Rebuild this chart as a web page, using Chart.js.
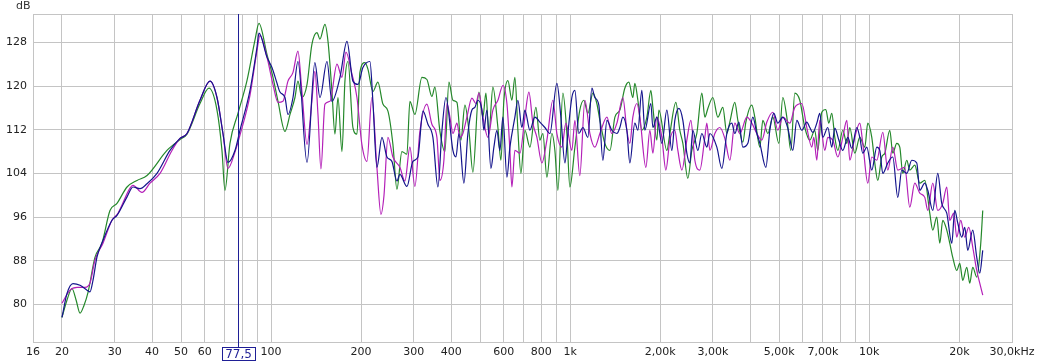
<!DOCTYPE html>
<html>
<head>
<meta charset="utf-8">
<script src="https://cdn.jsdelivr.net/npm/chart.js@4.4.0/dist/chart.umd.min.js"></script>
<style>
  html, body { margin: 0; padding: 0; background: #fff; }
  #wrap { width: 1045px; height: 363px; }
</style>
</head>
<body>
<div id="wrap"><canvas id="fr"></canvas></div>
<script>
// axis ticks
const xTickValues = [16,20,30,40,50,60,70,80,90,100,200,300,400,500,600,700,800,900,1000,2000,3000,4000,5000,6000,7000,8000,9000,10000,20000,30000];
const xTickLabels = ['16','20','30','40','50','60','','','','100','200','300','400','','600','','800','','1k','2,00k','3,00k','','5,00k','','7,00k','','','10k','20k','30,0kHz'];
const yTickValues = [80,88,96,104,112,120,128];

const cursorHz = 77.5;
const cursorLabel = '77,5';

// blue measurement
const blueHz = [20.0,20.79,21.77,22.98,24.25,24.82,25.39,26.19,27.42,29.39,30.54,33.0,34.55,36.47,38.48,41.56,45.93,49.61,52.35,57.86,62.5,65.95,69.06,71.77,75.75,78.72,85.02,89.73,91.12,96.9,100.7,104.7,107.1,111.3,113.9,118.4,123.0,131.9,140.1,145.7,153.8,159.8,170.0,179.4,187.8,195.2,202.8,214.1,219.0,225.9,234.8,244.0,253.5,263.5,269.6,284.6,298.0,309.7,321.9,334.5,347.6,361.3,372.5,384.3,405.5,415.0,424.7,441.3,455.1,469.3,480.2,491.5,506.9,514.7,526.7,543.2,555.9,568.9,582.2,595.8,614.5,628.8,653.4,668.7,689.6,705.7,733.4,762.1,792.1,823.2,855.5,902.8,931.0,960.1,982.5,1013,1037,1069,1103,1146,1182,1209,1247,1286,1327,1378,1433,1466,1500,1547,1583,1645,1684,1736,1777,1861,1890,1949,2025,2105,2187,2238,2309,2381,2455,2512,2571,2672,2756,2864,2931,3093,3214,3340,3471,3552,3664,3778,3927,4080,4208,4307,4510,4651,4796,4946,5139,5341,5550,5724,5948,6182,6327,6474,6677,6832,6992,7267,7493,7668,7909,8155,8476,8739,9083,9295,9512,9810,10194,10595,10842,11095,11531,11982,12453,12842,13346,13869,14414,14750,15328,15687,16301,16941,17470,18156,18868,19309,19760,20377,20853,21341,22177,22871,23405,23951];
const blueDb = [77.6,82.0,83.8,83.5,82.6,82.3,84.4,88.7,91.7,95.4,96.3,99.7,101.5,101.2,102.1,104.0,108.2,110.4,111.3,117.4,120.9,117.9,111.3,106.0,108.2,111.9,119.2,127.1,129.7,125.3,123.4,120.5,118.9,117.9,114.8,117.9,124.5,106.0,124.3,117.9,124.5,117.2,121.6,128.2,120.9,120.3,123.4,124.5,117.2,105.1,110.6,107.0,106.2,102.6,103.8,101.6,106.2,107.0,115.4,113.0,110.6,101.5,111.7,117.9,108.2,107.0,111.3,102.2,111.3,115.6,116.1,117.4,115.6,111.9,115.6,104.9,108.8,111.9,108.2,114.3,103.3,108.8,114.3,117.4,112.4,115.6,111.9,114.3,113.4,112.4,111.3,120.5,114.3,105.9,111.3,117.9,119.2,111.3,112.4,110.6,119.6,117.9,116.5,106.4,113.7,111.9,111.3,112.4,114.3,111.9,105.9,113.2,111.9,119.2,111.9,116.8,112.4,114.3,109.5,115.6,108.2,113.7,115.9,113.7,107.7,105.9,111.9,108.2,111.3,108.8,111.3,108.8,104.9,111.3,113.2,111.3,113.4,108.8,109.5,114.3,111.3,109.5,105.1,111.9,115.0,113.2,114.3,112.3,108.2,113.7,111.9,113.4,112.4,111.5,113.2,115.0,110.6,112.4,108.8,112.3,110.1,108.2,110.6,108.6,112.4,110.6,107.7,108.8,104.6,108.8,108.2,104.0,105.9,107.0,99.6,104.6,104.0,106.4,105.9,100.9,102.2,100.9,97.2,104.0,98.5,96.7,91.2,97.2,94.9,92.3,94.1,89.9,93.6,88.6,85.7,89.9];

// magenta measurement
const magentaHz = [20.0,21.27,22.46,23.87,24.82,25.78,27.42,29.39,30.78,33.77,34.55,37.02,39.38,42.53,46.64,49.61,52.35,57.86,62.5,65.95,69.06,71.77,75.75,78.72,85.02,89.73,91.82,96.9,101.5,105.5,109.6,113.9,118.4,123.0,126.8,131.9,136.9,140.1,143.5,146.8,151.4,157.4,166.1,172.6,178.0,186.4,193.7,201.2,209.2,217.3,225.9,233.0,238.4,245.9,255.5,269.6,280.2,291.2,302.6,314.5,331.9,344.9,358.5,366.9,378.3,387.2,396.3,405.5,418.2,428.0,437.9,451.6,469.3,484.0,495.3,510.8,530.8,551.6,573.3,595.8,614.5,628.8,638.5,653.4,679.1,705.7,727.8,750.5,774.0,804.4,835.9,875.4,902.8,938.1,967.6,1013,1037,1077,1120,1164,1209,1257,1327,1378,1433,1500,1547,1583,1620,1671,1710,1791,1847,1890,1949,2025,2089,2154,2238,2291,2363,2455,2532,2611,2713,2820,2864,2931,3046,3165,3289,3418,3552,3692,3897,4049,4208,4372,4545,4759,4946,5139,5424,5636,5948,6182,6425,6524,6677,6832,7100,7267,7551,7848,8155,8411,8607,8943,9295,9512,9886,10194,10595,11095,11531,11982,12453,13141,13657,14193,14750,15328,15687,16301,16941,17605,18156,18580,19161,19609,20223,20853,21506,22177,22871,23405,23951];
const magentaDb = [80.2,82.6,83.1,83.1,83.9,88.1,91.2,95.4,96.7,101.3,101.8,100.5,102.2,104.0,108.2,110.4,111.3,117.4,120.9,117.9,111.3,104.9,107.9,111.0,118.3,126.5,129.3,125.3,120.3,117.0,117.2,120.9,122.5,126.4,119.0,109.3,117.2,122.7,114.8,104.8,116.7,117.2,124.0,121.6,126.2,122.2,117.9,109.3,106.2,117.9,105.1,96.5,99.8,110.6,107.0,105.1,102.6,108.8,101.6,111.7,116.7,113.0,110.6,102.7,106.4,116.8,114.3,111.3,113.2,110.6,111.3,114.3,117.8,116.8,118.7,114.3,110.6,115.6,117.4,120.1,116.8,108.2,101.5,108.2,107.7,114.3,118.9,113.2,110.6,105.9,110.1,117.4,111.3,108.8,113.2,108.2,113.7,103.6,117.4,111.3,108.8,111.3,114.3,111.3,113.2,117.9,111.9,109.5,114.3,116.8,114.3,105.1,111.9,107.7,114.3,110.6,104.6,110.1,111.9,108.2,104.6,110.1,113.7,106.4,104.6,110.6,113.2,108.2,111.3,112.4,110.4,106.4,113.2,111.3,114.3,113.2,111.3,110.1,113.4,115.2,111.9,114.3,113.2,116.1,116.8,112.4,108.8,110.6,106.4,113.7,108.2,110.6,110.1,107.0,110.6,113.7,106.4,110.6,113.2,109.5,102.2,107.0,106.4,111.5,104.6,108.8,104.6,105.1,97.8,102.2,100.4,99.6,97.2,102.2,97.2,98.5,101.5,95.4,96.7,92.3,95.4,92.3,94.1,90.5,86.2,83.9,81.7];

// green measurement
const greenHz = [20.0,20.79,21.6,22.29,22.98,23.69,24.44,25.78,27.21,28.94,30.54,33.0,35.63,38.48,44.88,49.61,52.35,57.86,62.01,65.95,68.53,70.13,72.88,77.52,83.08,88.35,91.12,96.9,101.5,105.5,111.3,115.7,120.2,123.0,126.8,131.9,136.9,142.4,145.7,151.4,155.0,159.8,163.5,167.4,172.6,176.6,180.8,187.8,193.7,198.2,206.0,210.8,219.0,227.6,236.6,245.9,255.5,263.5,273.8,284.6,291.2,302.6,319.4,331.9,344.9,353.0,366.9,381.2,393.2,405.5,418.2,431.2,444.7,458.6,472.9,495.3,510.8,522.7,534.9,551.6,573.3,586.7,600.4,619.2,638.5,653.4,668.7,684.4,705.7,733.4,768.2,792.1,810.6,835.9,868.7,889.0,909.8,945.4,975.0,997.7,1037,1077,1111,1146,1191,1228,1257,1306,1358,1411,1466,1523,1571,1620,1645,1684,1736,1805,1861,1890,1949,1979,2105,2154,2256,2326,2381,2474,2551,2651,2756,2820,2886,2999,3117,3239,3340,3418,3552,3636,3778,3867,4049,4143,4307,4406,4580,4759,4984,5139,5300,5466,5636,5857,6087,6327,6574,6728,6938,7156,7323,7493,7668,7848,8155,8411,8607,8943,9295,9659,9886,10194,10433,10677,11010,11267,11710,11982,12358,12646,12941,13346,13657,14193,14750,15328,15930,16301,16811,17204,17605,18156,18580,19014,19609,20066,20535,21177,21672,22177,22871,23588,23951];
const greenDb = [77.6,80.8,82.9,80.8,78.4,79.8,82.2,88.6,91.2,97.2,98.5,101.5,102.7,103.6,108.2,110.2,111.2,116.8,119.6,115.6,108.2,100.9,109.5,115.0,121.0,128.4,131.5,125.8,121.6,117.2,111.7,114.8,117.9,120.9,117.9,120.3,127.6,129.8,128.6,131.3,128.2,119.0,111.2,117.9,108.0,120.9,124.5,112.4,111.2,122.5,124.3,123.1,119.0,120.7,116.7,115.4,109.3,101.1,108.0,107.5,117.2,114.8,121.6,121.2,118.1,119.8,111.7,108.0,120.7,117.4,117.0,110.1,116.5,111.9,104.2,118.9,114.3,118.7,111.3,119.8,112.4,106.4,117.4,121.0,117.4,121.6,111.9,104.0,111.9,108.8,116.1,110.1,111.3,103.3,111.3,108.2,100.9,118.7,111.3,101.5,108.8,115.6,117.4,115.0,118.7,116.8,113.7,109.5,108.2,114.3,115.6,119.6,120.7,117.9,120.5,117.4,111.9,114.3,119.2,116.1,110.1,115.6,108.2,111.3,117.0,111.9,109.5,103.1,108.2,111.3,118.7,114.3,115.9,117.9,114.3,116.1,111.3,113.4,117.0,113.7,109.7,113.4,116.5,114.3,108.8,113.7,111.3,114.3,109.5,117.9,114.3,108.2,118.7,117.4,112.4,110.1,111.9,108.2,115.2,115.7,113.2,115.0,110.6,108.2,111.9,109.5,112.4,107.7,110.6,108.8,113.2,110.6,105.9,102.7,107.0,107.7,111.9,107.7,109.5,108.8,104.0,106.4,104.6,105.5,102.2,102.7,96.7,93.6,96.0,91.2,95.4,93.6,91.2,88.6,86.2,87.5,84.4,86.8,83.9,86.8,85.0,91.2,97.2];

const gridColor = '#c4c4c4';
const cursorColor = '#1f1f96';
const labelFont = { family: 'DejaVu Sans', size: 11 };

function points(hz, db) {
  return hz.map((f, i) => ({ x: f, y: db[i] }));
}

const overlay = {
  id: 'overlay',
  afterDatasetsDraw(chart) {
    const { ctx, chartArea: a, scales } = chart;
    ctx.save();
    // top frame line
    ctx.strokeStyle = gridColor;
    ctx.lineWidth = 1;
    ctx.beginPath();
    ctx.moveTo(a.left, a.top + 0.5);
    ctx.lineTo(a.right, a.top + 0.5);
    ctx.stroke();

    // cursor
    const cx = Math.round(scales.x.getPixelForValue(cursorHz)) + 0.5;
    ctx.strokeStyle = cursorColor;
    ctx.beginPath();
    ctx.moveTo(cx, a.top);
    ctx.lineTo(cx, a.bottom + 6);
    ctx.stroke();

    ctx.font = '12px "DejaVu Sans"';
    const w = Math.round(ctx.measureText(cursorLabel).width + 6);
    const bx = Math.round(cx - w / 2) + 0.5, by = a.bottom + 5.5;
    ctx.fillStyle = '#fff';
    ctx.fillRect(bx, by, w, 13);
    ctx.strokeRect(bx, by, w, 13);
    ctx.fillStyle = cursorColor;
    ctx.textAlign = 'center';
    ctx.textBaseline = 'middle';
    ctx.fillText(cursorLabel, cx, by + 7);

    // unit label
    ctx.font = '11px "DejaVu Sans"';
    ctx.fillStyle = '#333';
    ctx.textAlign = 'left';
    ctx.fillText('dB', 16, 6);
    ctx.restore();
  }
};

new Chart(document.getElementById('fr'), {
  type: 'line',
  data: {
    datasets: [
      { label: 'blue', data: points(blueHz, blueDb), borderColor: '#14148c', order: 0 },
      { label: 'magenta', data: points(magentaHz, magentaDb), borderColor: '#b420b8', order: 1 },
      { label: 'green', data: points(greenHz, greenDb), borderColor: '#24882a', order: 2 }
    ]
  },
  options: {
    responsive: true,
    maintainAspectRatio: false,
    animation: false,
    layout: { padding: { top: 14, right: 33, left: 0, bottom: 0 } },
    elements: {
      point: { radius: 0 },
      line: { borderWidth: 1.2, cubicInterpolationMode: 'monotone', fill: false }
    },
    plugins: {
      legend: { display: false },
      tooltip: { enabled: false }
    },
    scales: {
      x: {
        type: 'logarithmic',
        min: 16,
        max: 30000,
        afterBuildTicks: s => { s.ticks = xTickValues.map(v => ({ value: v })); },
        afterFit: s => { s.height = 21; },
        grid: { color: gridColor, drawTicks: false },
        border: { color: gridColor },
        ticks: {
          autoSkip: false,
          maxRotation: 0,
          padding: 4,
          color: '#222',
          font: labelFont,
          callback: (v, i) => xTickLabels[i]
        }
      },
      y: {
        min: 73.1,
        max: 133.2,
        afterBuildTicks: s => { s.ticks = yTickValues.map(v => ({ value: v })); },
        afterFit: s => { s.width = 33; },
        grid: { color: gridColor, drawTicks: false },
        border: { color: gridColor },
        ticks: { padding: 6, color: '#222', font: labelFont }
      }
    }
  },
  plugins: [overlay]
});
</script>
</body>
</html>
